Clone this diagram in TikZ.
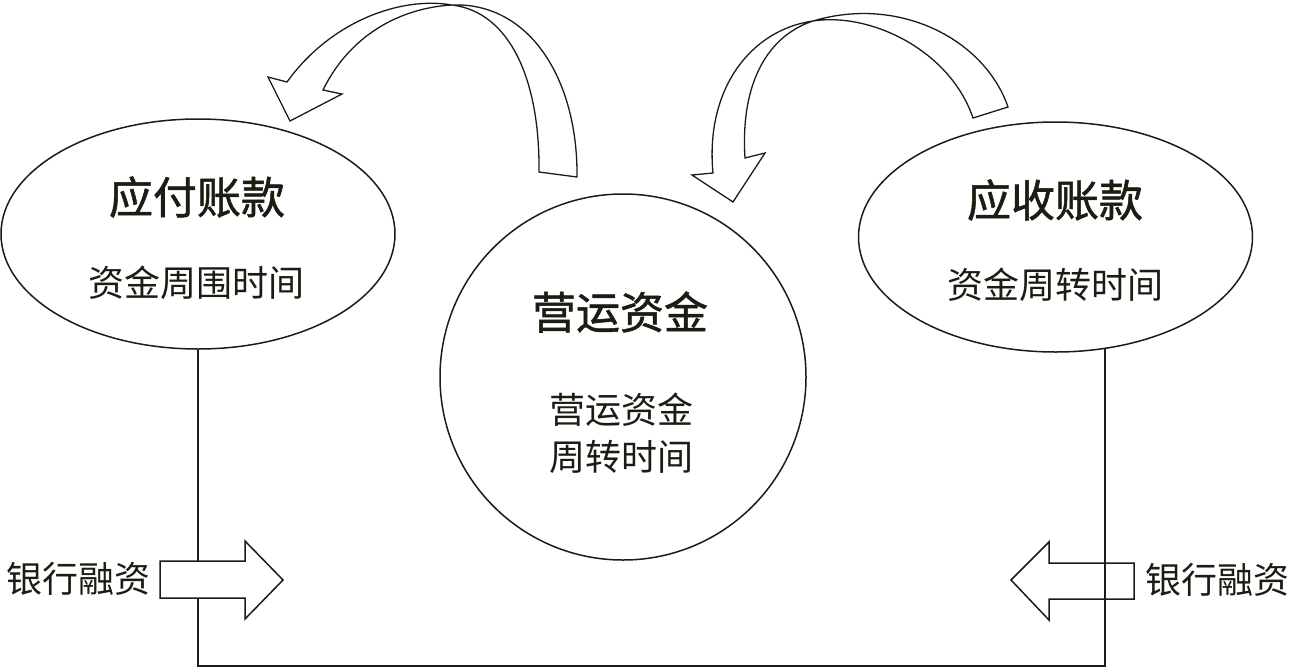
\documentclass[tikz,border=0pt]{standalone}
\usepackage{fontspec}
\newfontfamily\cjk{Noto Sans CJK SC}
\newfontfamily\cjkhead[FakeBold=1.2]{Noto Sans CJK SC}
\usepackage{xcolor}
\usepackage{tikz}
\usetikzlibrary{shapes.geometric, positioning}
\definecolor{ink}{HTML}{1C1C12}

\begin{document}
\begin{tikzpicture}[
  x=1pt, y=-1pt,
  color=ink,
  ovalNode/.style={ellipse, draw, line width=1.5pt, minimum width=394pt, minimum height=230pt, inner sep=0pt},
  roundNode/.style={circle, draw, line width=1.5pt, minimum size=366pt, inner sep=0pt},
  headText/.style={font=\cjkhead\fontsize{44}{48}\selectfont, inner sep=0pt},
  bodyText/.style={font=\cjk\fontsize{36}{47}\selectfont, align=center, inner sep=0pt},
  flowLine/.style={draw, line width=1.5pt},
  blockArrow/.style={draw, line width=1.5pt, line join=miter, fill=white},
  bandArrow/.style={draw, line width=1.3pt, line join=miter}
]
  \useasboundingbox (0,0) rectangle (1292,667);

  \node [ovalNode] (payable) at (198,234) {};
  \node [roundNode] (capital) at (623,377) {};
  \node [ovalNode] (receivable) at (1055.5,237) {};

  \node [headText] (payTitle) at (197,197) {应付账款};
  \node [bodyText] (payTime) at (196,283) {资金周围时间};
  \node [headText] (capTitle) at (620,312) {营运资金};
  \node [bodyText] (capTime) at (621,433) {营运资金\\周转时间};
  \node [headText] (recvTitle) at (1055,200) {应收账款};
  \node [bodyText] (recvTime) at (1055,285) {资金周转时间};

  % loop from payable down and over to receivable
  \coordinate (lowL) at (198,666);
  \coordinate (lowR) at (1105,666);
  \draw [flowLine] (payable.south) -- (lowL) -- (lowR) -- (lowR |- receivable.-66);

  % bank financing
  \coordinate (inL) at (160,579);
  \coordinate (inR) at (1134,580);
  \draw [blockArrow] (inL |- 0,561) -- (245,561) -- (245,541) -- (283,580) -- (245,619) -- (245,598) -- (inL |- 0,598) -- cycle;
  \draw [blockArrow, fill=none] (inR |- 0,563) -- (1049,563) -- (1049,542) -- (1011,580) -- (1049,620) -- (1049,599) -- (inR |- 0,599) -- cycle;
  \node [bodyText, left=9pt of inL] (bankL) {银行融资};
  \node [bodyText, right=11pt of inR] (bankR) {银行融资};

  % turning arrows over the top
  \draw [bandArrow] (287,82) .. controls (330,22) and (400,-4) .. (452,5) .. controls (510,12) and (540,80) .. (539,172)
    -- (577,177) .. controls (578,80) and (530,2) .. (452,5) .. controls (400,8) and (350,35) .. (323,90)
    -- (342,94) -- (290,121) -- (268,77) -- cycle;
  \draw [bandArrow] (713,173) .. controls (705,90) and (750,30) .. (813,21) .. controls (870,12) and (950,50) .. (973,118)
    -- (1008,107) .. controls (985,40) and (900,-5) .. (813,21) .. controls (770,35) and (740,80) .. (745,158)
    -- (765,153) -- (733,202) -- (692,175) -- cycle;
\end{tikzpicture}
\end{document}
